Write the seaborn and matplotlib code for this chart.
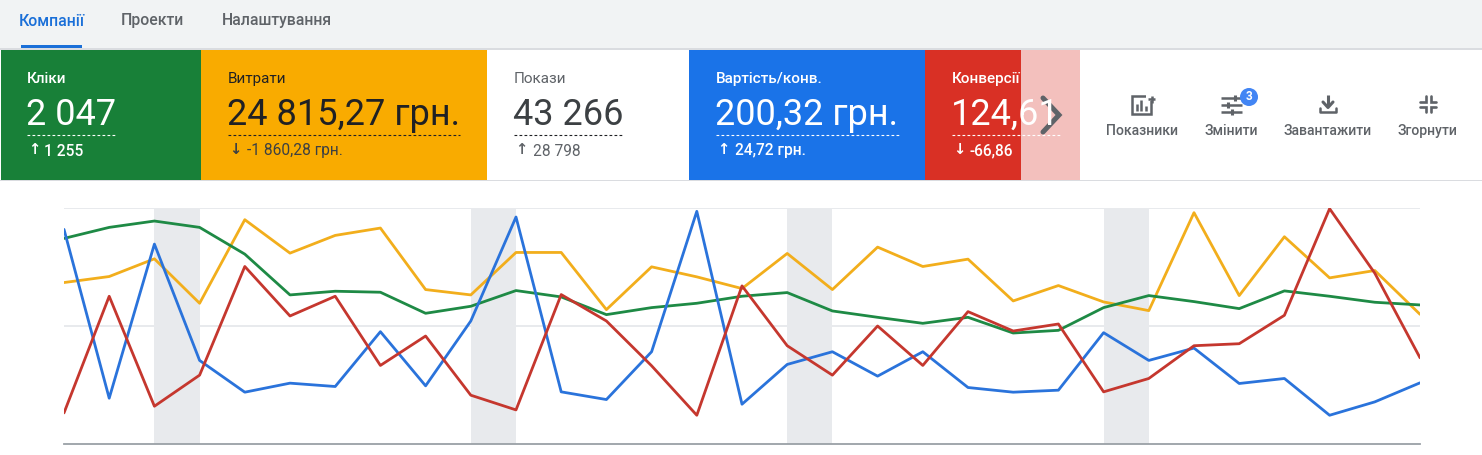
import matplotlib
matplotlib.use("Agg")
import matplotlib.pyplot as plt
import pandas as pd
import seaborn as sns
from matplotlib.patches import Circle, Rectangle

sns.set_theme(style="white")
plt.rcParams["font.family"] = ["Roboto", "DejaVu Sans"]

# chart values: the axis has no labels, so they are in relative units (0 - 706)
clicks = [615, 648, 667, 648, 568, 446, 457, 454, 391, 412, 459, 440, 387, 408, 421, 442,
          453, 398, 379, 361, 379, 332, 340, 408, 444, 426, 405, 458, 442, 424, 416]
cost = [483, 501, 554, 421, 671, 571, 624, 646, 462, 446, 573, 573, 402, 530, 500, 465,
        570, 462, 589, 531, 553, 428, 474, 425, 399, 692, 444, 620, 497, 519, 388]
cost_conv = [642, 137, 598, 250, 155, 182, 172, 336, 174, 368, 679, 156, 133, 276, 696, 119,
             238, 276, 203, 276, 169, 155, 161, 333, 250, 287, 181, 196, 86, 126, 183]
conversions = [93, 442, 113, 206, 531, 383, 442, 235, 323, 146, 102, 447, 368, 234, 86, 473,
               294, 206, 353, 235, 396, 338, 359, 156, 196, 294, 300, 385, 704, 511, 258]
weekend_starts = [2, 9, 16, 23]

tabs = ["Компанії", "Проекти", "Налаштування"]
kpi_names = ["Кліки", "Витрати", "Покази", "Вартість/конв.", "Конверсії"]
kpi_values = ["2 047", "24 815,27 грн.", "43 266", "200,32 грн.", "124,61"]
kpi_arrows = ["↑", "↓", "↑", "↑", "↓"]
kpi_deltas = ["1 255", "-1 860,28 грн.", "28 798", "24,72 грн.", "-66,86"]
tools = ["Показники", "Змінити", "Завантажити", "Згорнути"]

W, H = 1482, 455
fig = plt.figure(figsize=(W / 100, H / 100), dpi=100, facecolor="white")

# page furniture is laid out in screen pixels
ui = fig.add_axes([0, 0, 1, 1], zorder=2)
ui.set_xlim(0, W)
ui.set_ylim(H, 0)
ui.axis("off")


def rect(x0, y0, x1, y1, color, **kw):
    ui.add_patch(Rectangle((x0, y0), x1 - x0, y1 - y0, fc=color, ec="none", **kw))


def stroke(xs, ys, lw=1.8, color="#5f6368", **kw):
    ui.plot(xs, ys, color=color, lw=lw, solid_capstyle="butt", **kw)


# tabs
rect(0, 0, W, 48, "#f1f3f4")
rect(0, 48, W, 50, "#dadce0")
rect(0, 180, W, 181, "#dadce0")
rect(21, 45, 82, 48, "#1a6fd8")
for x, label, color in zip([19, 121, 222], tabs, ["#1a6fd8", "#5f6368", "#5f6368"]):
    ui.text(x, 21, label, fontsize=11.3, color=color, va="center", weight="medium")

# metric cards
card_x = [1, 201, 487, 689, 925]
card_end = [201, 487, 689, 925, 1080]
card_bg = ["#188038", "#f9ab00", "#ffffff", "#1a73e8", "#d93025"]
card_fg = ["#ffffff", "#202124", "#3c4043", "#ffffff", "#ffffff"]
card_sub = ["#ffffff", "#3c4043", "#5f6368", "#ffffff", "#ffffff"]
text_x = [27, 228, 514, 716, 952]
dash_end = [116, 460, 624, 899, 1060]
delta_x = [44, 247, 533, 735, 970]
for i in range(5):
    rect(card_x[i], 50, card_end[i], 180, card_bg[i])
    x = text_x[i]
    ui.text(x, 79, kpi_names[i], fontsize=11, color=card_sub[i] if i == 2 else card_fg[i],
            va="center", weight="medium" if i in (0, 3, 4) else "normal")
    ui.text(x - 1, 115, kpi_values[i], fontsize=26, color=card_fg[i], va="center")
    ui.plot([x, dash_end[i]], [135, 135], color="#202124" if i in (1, 2) else "#ffffff",
            lw=0.8, ls=(0, (2.5, 2)))
    ui.text(x + 7, 150, kpi_arrows[i], fontsize=10.5, color=card_sub[i], va="center", ha="center",
            weight="bold", family="DejaVu Sans")
    ui.text(delta_x[i], 151, kpi_deltas[i], fontsize=11.2, color=card_sub[i], va="center",
            weight="medium" if i in (0, 3, 4) else "normal")

# fade over the clipped card and the scroll arrow
rect(1021, 50, 1080, 180, "#ffffff", alpha=0.7)
ui.plot([1043, 1059, 1043], [98, 115, 132], color="#5f6368", lw=3.6, solid_joinstyle="miter")

# toolbar
for x, label in zip([1142, 1231, 1328, 1427], tools):
    ui.text(x, 131, label, fontsize=10.1, color="#5f6368", ha="center", va="center", weight="medium")

ui.add_patch(Rectangle((1132, 96), 19, 18, fc="none", ec="#5f6368", lw=1.8))
rect(1146, 93, 1153, 101, "#ffffff")
stroke([1148, 1155], [99, 99])
stroke([1151.5, 1151.5], [95.5, 102.5])
for bx, top in zip([1136.5, 1141, 1145.5], [104, 100, 106]):
    stroke([bx, bx], [111, top], lw=1.8)

for yy, kx in zip([98, 105, 112], [1235, 1228, 1232]):
    stroke([1221, 1242], [yy, yy], lw=1.8)
    stroke([kx, kx], [yy - 3, yy + 3], lw=2.2)
ui.add_patch(Circle((1249, 97), 9, fc="#4285f4", ec="none", zorder=4))
ui.text(1249, 97, "3", fontsize=8.5, color="white", ha="center", va="center", weight="bold", zorder=5)

stroke([1328, 1328], [95, 106], lw=2.2)
ui.plot([1323, 1328, 1333], [102, 107.5, 102], color="#5f6368", lw=2.2)
ui.plot([1320, 1320, 1336, 1336], [108, 112, 112, 108], color="#5f6368", lw=1.8)

for sx, sy in [(-1, -1), (1, -1), (-1, 1), (1, 1)]:
    cx, cy = 1428 + sx * 2.5, 104 + sy * 2.5
    ui.plot([cx + sx * 5.5, cx, cx], [cy, cy, cy + sy * 5.5], color="#5f6368", lw=1.9,
            solid_joinstyle="miter")

# chart
ax = fig.add_axes([64 / W, 1 - 444 / H, (1420 - 64) / W, (444 - 208) / H], zorder=1)
long_df = pd.DataFrame({
    "day": list(range(len(clicks))) * 4,
    "value": cost + clicks + cost_conv + conversions,
    "metric": ["cost"] * len(cost) + ["clicks"] * len(clicks)
    + ["cost_conv"] * len(cost_conv) + ["conversions"] * len(conversions),
})
for start in weekend_starts:
    ax.axvspan(start, start + 1, color="#e8eaed", lw=0, zorder=0)
ax.axhline(353, color="#e8eaed", lw=1.4, zorder=1)
ax.axhline(706, color="#e8eaed", lw=1.4, zorder=1)
sns.lineplot(
    data=long_df, x="day", y="value", hue="metric",
    hue_order=["cost", "clicks", "cost_conv", "conversions"],
    palette=["#f2ae1c", "#1e8a45", "#2a73db", "#c5372e"],
    linewidth=2.0, legend=False, errorbar=None, ax=ax, zorder=3,
)
ax.set_xlim(0, 30)
ax.set_ylim(0, 706)
ax.set_xticks([])
ax.set_yticks([])
ax.set_xlabel("")
ax.set_ylabel("")
sns.despine(ax=ax, left=True, right=True, top=True)
ax.spines["bottom"].set_color("#9aa0a6")
ax.spines["bottom"].set_linewidth(1.3)

fig.savefig("out.png", dpi=100)
